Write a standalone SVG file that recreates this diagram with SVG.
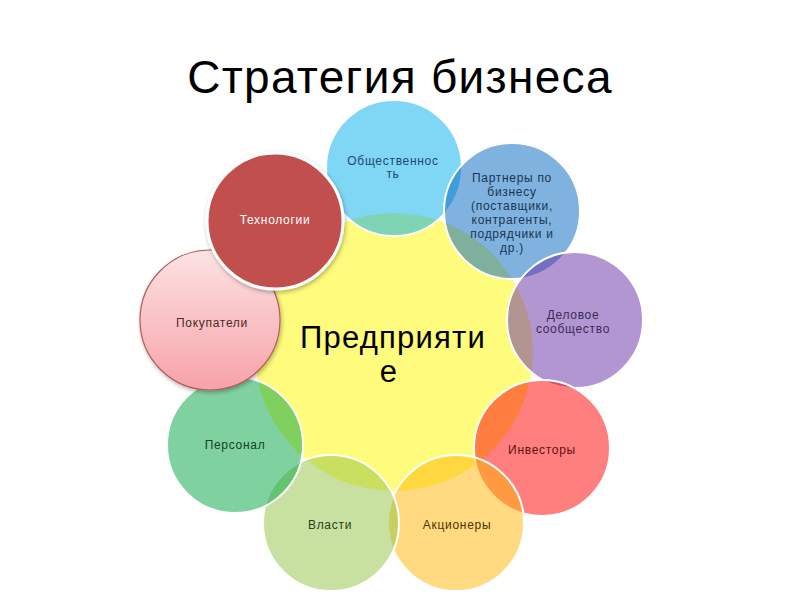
<svg xmlns="http://www.w3.org/2000/svg" width="800" height="600" viewBox="0 0 800 600">
<defs>
<linearGradient id="pinkGrad" x1="0" y1="0" x2="0" y2="1">
<stop offset="0" stop-color="#fde3e3"/>
<stop offset="1" stop-color="#f6a2a8"/>
</linearGradient>
<filter id="shadow" x="-20%" y="-20%" width="140%" height="140%">
<feDropShadow dx="1" dy="2" stdDeviation="2" flood-color="#000" flood-opacity="0.3"/>
</filter>
</defs>
<style>
.title{font-family:"Liberation Sans",Arial,sans-serif;font-size:46px;fill:#000;letter-spacing:1.3px}
.center{font-family:"Liberation Sans",Arial,sans-serif;font-size:31px;fill:#000;letter-spacing:1.2px}
.lbl{font-family:"Liberation Sans",Arial,sans-serif;font-size:12px;letter-spacing:0.7px;text-anchor:middle}
.ring{stroke:#ffffff;stroke-width:2;fill-opacity:0.5}
</style>
<rect width="800" height="600" fill="#ffffff"/>
<text class="title" x="400" y="93" text-anchor="middle">Стратегия бизнеса</text>

<g id="node-center">
<circle cx="394" cy="352" r="139" fill="#fffb7c"/>
<text class="center" x="393" y="348" text-anchor="middle">Предприяти</text>
<text class="center" x="389" y="382" text-anchor="middle">е</text>
</g>

<g id="connectors"></g>

<g id="node-obshchestvennost">
<circle class="ring" cx="394" cy="168" r="68" fill="rgb(0,173,235)"/>
<text class="lbl" x="393" y="165" fill="#1d4a6e">Общественнос</text>
<text class="lbl" x="393" y="178" fill="#1d4a6e">ть</text>
</g>

<g id="node-partnery">
<circle class="ring" cx="512" cy="211" r="68" fill="rgb(0,101,189)"/>
<text class="lbl" x="512" y="182" fill="#1b3552">Партнеры по</text>
<text class="lbl" x="512" y="196" fill="#1b3552">бизнесу</text>
<text class="lbl" x="512" y="210" fill="#1b3552">(поставщики,</text>
<text class="lbl" x="512" y="224" fill="#1b3552">контрагенты,</text>
<text class="lbl" x="512" y="238" fill="#1b3552">подрядчики и</text>
<text class="lbl" x="512" y="252" fill="#1b3552">др.)</text>
</g>

<g id="node-delovoe">
<circle class="ring" cx="575" cy="320" r="68" fill="rgb(101,45,165)"/>
<text class="lbl" x="573" y="319" fill="#3b2a55">Деловое</text>
<text class="lbl" x="573" y="333" fill="#3b2a55">сообщество</text>
</g>

<g id="node-investory">
<circle class="ring" cx="542" cy="448" r="68" fill="rgb(255,0,0)"/>
<text class="lbl" x="542" y="454" fill="#5a1414">Инвесторы</text>
</g>

<g id="node-aktsionery">
<circle class="ring" cx="456" cy="523" r="68" fill="rgb(255,181,1)"/>
<text class="lbl" x="457" y="529" fill="#4a3300">Акционеры</text>
</g>

<g id="node-vlasti">
<circle class="ring" cx="331" cy="523" r="68" fill="rgb(145,195,65)"/>
<text class="lbl" x="330" y="529" fill="#26401a">Власти</text>
</g>

<g id="node-personal">
<circle class="ring" cx="235" cy="445" r="68" fill="rgb(0,165,65)"/>
<text class="lbl" x="235" y="449" fill="#143f28">Персонал</text>
</g>

<g id="node-pokupateli">
<circle cx="210" cy="320" r="70" fill="url(#pinkGrad)" stroke="#b45a5a" stroke-width="1.2" filter="url(#shadow)"/>
<text class="lbl" x="212" y="327" fill="#4a2a2a">Покупатели</text>
</g>

<g id="node-tekhnologii">
<circle cx="275" cy="221" r="68" fill="#c0504d" stroke="#ffffff" stroke-width="3" filter="url(#shadow)"/>
<text class="lbl" x="275" y="224" fill="#ffffff">Технологии</text>
</g>
</svg>
